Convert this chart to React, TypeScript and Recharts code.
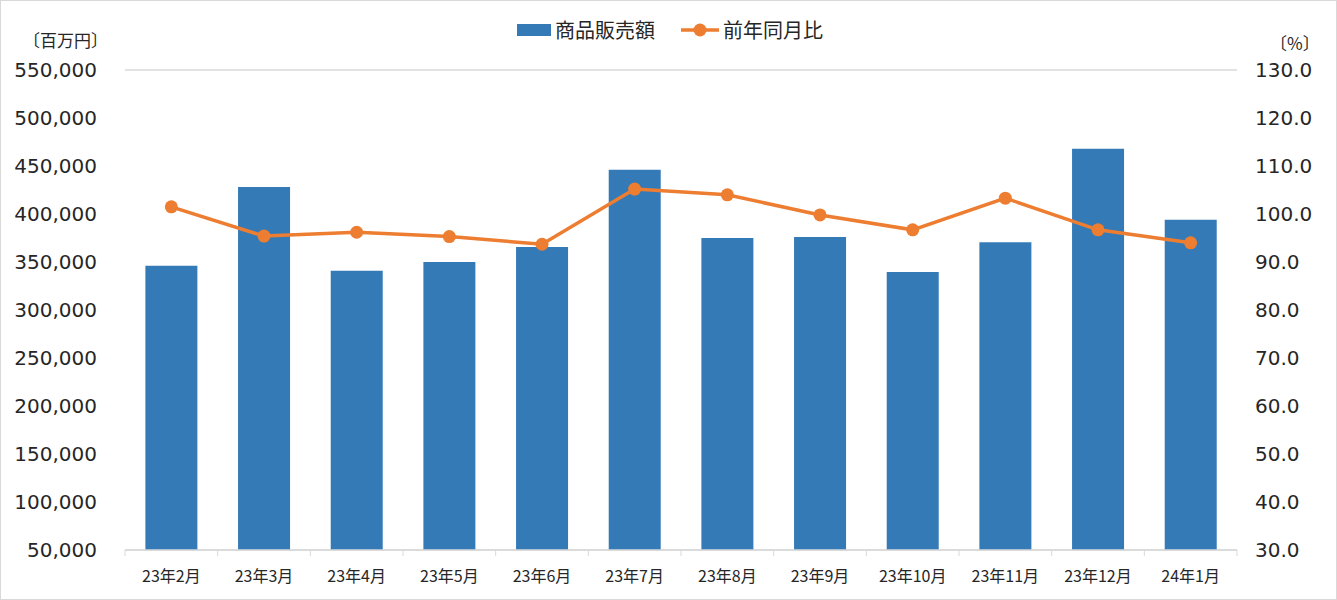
import React from "react";
import { ComposedChart, Bar, Line, XAxis, YAxis, CartesianGrid } from "recharts";

const categories = ["23年2月", "23年3月", "23年4月", "23年5月", "23年6月", "23年7月", "23年8月", "23年9月", "23年10月", "23年11月", "23年12月", "24年1月"];
const sales = [346000, 428000, 341000, 350000, 365500, 446000, 375000, 376000, 339500, 370500, 468000, 394000];
const yoy = [101.5, 95.4, 96.2, 95.3, 93.7, 105.2, 104.0, 99.8, 96.7, 103.3, 96.7, 94.0];
const leftTicks = [50000, 100000, 150000, 200000, 250000, 300000, 350000, 400000, 450000, 500000, 550000];
const rightTicks = [30, 40, 50, 60, 70, 80, 90, 100, 110, 120, 130];

const barName = "商品販売額";
const lineName = "前年同月比";
const leftUnit = "〔百万円〕";
const rightUnit = "〔%〕";

const data = categories.map((c, i) => ({ name: c, sales: sales[i], yoy: yoy[i] }));

const W = 1337;
const H = 600;
const LEFT_W = 125;
const RIGHT_W = 100;
const PLOT_W = W - LEFT_W - RIGHT_W;
const HALF_BAND = PLOT_W / categories.length / 2;

const BAR_COLOR = "#347AB6";
const LINE_COLOR = "#ED7D31";
const GRID = "#D9D9D9";
const TEXT = "#262626";
const NUM_FONT = "'DejaVu Sans', Verdana, sans-serif";
const JP_FONT = "'Noto Sans CJK JP', 'Noto Sans', sans-serif";

const XTick = (props: any) => {
  const { x, y, payload, index } = props;
  const last = index === categories.length - 1;
  return (
    <g>
      <line x1={x - HALF_BAND} x2={x - HALF_BAND} y1={y} y2={y + 6} stroke={GRID} strokeWidth={1} />
      {last && <line x1={x + HALF_BAND} x2={x + HALF_BAND} y1={y} y2={y + 6} stroke={GRID} strokeWidth={1} />}
      <text x={x} y={y + 32} textAnchor="middle" fontSize={16} fill={TEXT} fontFamily={JP_FONT}>
        {payload.value}
      </text>
    </g>
  );
};

export default function App() {
  return (
    <div style={{ position: "absolute", left: 0, top: 0, width: W, height: H, background: "#fff", fontFamily: JP_FONT }}>
      <ComposedChart
        width={W}
        height={H}
        data={data}
        margin={{ top: 70, right: 0, bottom: 0, left: 0 }}
        barCategoryGap="22%"
      >
        <CartesianGrid vertical={false} stroke={GRID} strokeWidth={1.5} />
        <XAxis
          dataKey="name"
          height={50}
          axisLine={{ stroke: GRID, strokeWidth: 1.5 }}
          tickLine={false}
          tickSize={0}
          tickMargin={0}
          interval={0}
          tick={<XTick />}
        />
        <YAxis
          yAxisId="left"
          orientation="left"
          width={LEFT_W}
          domain={[50000, 550000]}
          ticks={leftTicks}
          axisLine={false}
          tickLine={false}
          tickSize={0}
          tickMargin={28}
          interval={0}
          tickFormatter={(v: number) => v.toLocaleString("en-US")}
          tick={{ fontSize: 20, fill: TEXT, fontFamily: NUM_FONT }}
        />
        <YAxis
          yAxisId="right"
          orientation="right"
          width={RIGHT_W}
          domain={[30, 130]}
          ticks={rightTicks}
          axisLine={false}
          tickLine={false}
          tickSize={0}
          tickMargin={18}
          interval={0}
          tickFormatter={(v: number) => v.toFixed(1)}
          tick={{ fontSize: 20, fill: TEXT, fontFamily: NUM_FONT, textAnchor: "start" }}
        />
        <Bar yAxisId="left" dataKey="sales" name={barName} fill={BAR_COLOR} isAnimationActive={false} />
        <Line
          yAxisId="right"
          dataKey="yoy"
          name={lineName}
          stroke={LINE_COLOR}
          strokeWidth={3.5}
          dot={{ r: 6.5, fill: LINE_COLOR, stroke: LINE_COLOR, strokeWidth: 0 }}
          activeDot={false}
          isAnimationActive={false}
        />
      </ComposedChart>

      {/* Legend */}
      <div style={{ position: "absolute", top: 16, left: 517, display: "flex", alignItems: "center", fontSize: 20, color: TEXT, lineHeight: "28px" }}>
        <span style={{ display: "inline-block", width: 34, height: 12, background: BAR_COLOR, marginRight: 4 }} />
        <span>{barName}</span>
        <svg width={38} height={14} style={{ marginLeft: 26, marginRight: 4 }}>
          <line x1={0} x2={38} y1={7} y2={7} stroke={LINE_COLOR} strokeWidth={3.5} />
          <circle cx={19} cy={7} r={6.5} fill={LINE_COLOR} />
        </svg>
        <span>{lineName}</span>
      </div>

      {/* Axis units */}
      <div style={{ position: "absolute", top: 29, left: 23, fontSize: 17, color: TEXT, lineHeight: "22px" }}>{leftUnit}</div>
      <div style={{ position: "absolute", top: 32, left: 1270, fontSize: 17, color: TEXT, lineHeight: "22px" }}>{rightUnit}</div>

      {/* Frame */}
      <div style={{ position: "absolute", left: 0, top: 0, width: W, height: H, boxSizing: "border-box", border: "1px solid #D9D9D9", pointerEvents: "none" }} />
    </div>
  );
}
